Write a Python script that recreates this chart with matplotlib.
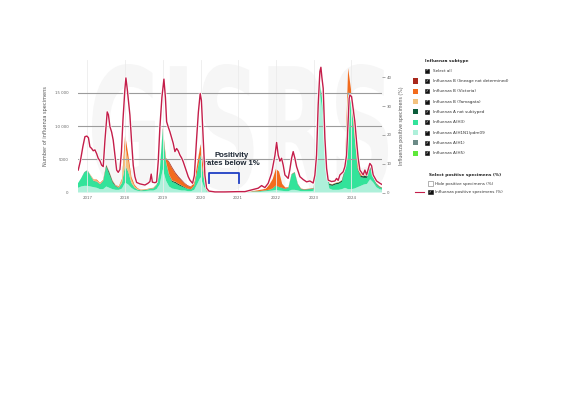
import matplotlib
matplotlib.use("Agg")
import matplotlib.pyplot as plt
import matplotlib.patheffects as pe
import numpy as np
from matplotlib.patches import Rectangle, PathPatch
from matplotlib.textpath import TextPath
from matplotlib.font_manager import FontProperties
from matplotlib.transforms import Affine2D

# monthly samples, Oct 2016 .. Nov 2024 (decimal years)
START_YEAR = 2016.75
N_MONTHS = 98

# counts of specimens per subtype (left axis), one value per month
a_h1n1pdm09 = [700, 900, 1000,
               1000, 900, 800, 700, 500, 500, 900, 700, 500, 400, 400, 600,
               1500, 1200, 700, 400, 250, 200, 200, 250, 300, 300, 500, 1200,
               3500, 1800, 900, 600, 500, 400, 300, 300, 200, 200, 400, 1300,
               2300, 1000, 100, 30, 20, 20, 20, 20, 20, 20, 20, 20,
               20, 30, 40, 60, 80, 100, 100, 120, 150, 200, 250, 300,
               400, 300, 250, 200, 200, 400, 400, 300, 200, 200, 200, 200,
               250, 3500, 15000, 11500, 3000, 600, 400, 400, 400, 500, 700, 500,
               500, 600, 800, 1000, 1200, 1300, 2000, 1500, 800, 500, 400]
a_h3 = [700, 1250, 2000,
        2300, 1600, 900, 900, 700, 1200, 3000, 2000, 1000, 500, 300, 800,
        2500, 1800, 700, 300, 150, 100, 150, 150, 250, 300, 600, 1800,
        6000, 2700, 1600, 1000, 900, 700, 600, 400, 300, 250, 600, 2000,
        3300, 1300, 100, 20, 10, 10, 10, 10, 10, 10, 10, 10,
        10, 10, 20, 30, 50, 60, 60, 80, 100, 120, 150, 300,
        600, 500, 400, 300, 500, 2300, 2600, 900, 300, 200, 250, 300,
        300, 1000, 1500, 1500, 800, 500, 600, 800, 900, 1100, 2600, 14500,
        13000, 8000, 2700, 1300, 1000, 900, 1600, 700, 400, 300, 200]
a_not_subtyped = [0, 0, 50,
                  50, 50, 50, 50, 50, 50, 200, 300, 200, 100, 50, 50,
                  100, 100, 50, 50, 30, 30, 30, 30, 30, 30, 30, 50,
                  100, 100, 150, 150, 200, 200, 150, 100, 50, 50, 50, 50,
                  50, 50, 20, 0, 0, 0, 0, 0, 0, 0, 0, 0,
                  10, 10, 10, 20, 20, 20, 20, 20, 30, 30, 30, 30,
                  50, 50, 50, 50, 50, 50, 50, 50, 50, 50, 50, 50,
                  50, 50, 100, 100, 100, 200, 200, 200, 200, 200, 200, 200,
                  200, 200, 200, 200, 300, 300, 300, 200, 100, 80, 50]
b_yamagata = [0, 0, 0,
              0, 100, 100, 150, 100, 50, 50, 50, 50, 50, 100, 400,
              3000, 1600, 500, 200, 100, 50, 50, 50, 30, 30, 30, 30,
              50, 100, 100, 50, 30, 20, 20, 10, 10, 10, 10, 10,
              10, 10, 0, 0, 0, 0, 0, 0, 0, 0, 0, 0,
              0, 0, 0, 0, 0, 0, 0, 0, 0, 0, 0, 0,
              0, 0, 0, 0, 0, 0, 0, 0, 0, 0, 0, 0,
              0, 0, 0, 0, 0, 0, 0, 0, 0, 0, 0, 0,
              0, 0, 0, 0, 0, 0, 0, 0, 0, 0, 0]
b_victoria = [0, 0, 0,
              0, 0, 100, 150, 100, 100, 50, 50, 50, 50, 100, 200,
              1600, 1000, 400, 200, 100, 50, 50, 50, 50, 50, 50, 50,
              100, 500, 1700, 1800, 1200, 900, 700, 500, 400, 350, 500, 1000,
              1500, 1200, 100, 20, 10, 10, 10, 10, 10, 10, 10, 20,
              20, 30, 40, 60, 100, 120, 130, 180, 200, 350, 800, 1400,
              2500, 2300, 600, 200, 50, 30, 30, 50, 50, 50, 50, 50,
              50, 50, 50, 50, 50, 50, 50, 50, 50, 50, 100, 3500,
              1500, 3500, 2500, 800, 300, 100, 50, 50, 50, 50, 50]
b_not_determined = [0, 0, 0,
                    0, 0, 0, 0, 0, 0, 0, 0, 0, 0, 0, 0,
                    0, 0, 0, 0, 0, 0, 0, 0, 0, 0, 0, 0,
                    0, 0, 200, 200, 200, 200, 150, 100, 100, 50, 50, 50,
                    100, 50, 0, 0, 0, 0, 0, 0, 0, 0, 0, 0,
                    0, 0, 0, 0, 0, 0, 0, 0, 0, 0, 0, 0,
                    0, 0, 0, 0, 0, 0, 0, 0, 0, 0, 0, 0,
                    0, 0, 0, 0, 0, 0, 0, 0, 0, 0, 0, 0,
                    0, 0, 0, 0, 0, 0, 0, 0, 0, 0, 0]

# influenza positivity (right axis, %)
pos_year = [2016.756, 2016.814, 2016.88, 2016.934, 2016.987, 2017.027, 2017.066, 2017.111,
            2017.154, 2017.199, 2017.244, 2017.286, 2017.332, 2017.377, 2017.419, 2017.464,
            2017.525, 2017.557, 2017.597, 2017.642, 2017.684, 2017.729, 2017.775, 2017.817,
            2017.862, 2017.902, 2017.942, 2017.995, 2018.021, 2018.056, 2018.082, 2018.127,
            2018.172, 2018.215, 2018.26, 2018.305, 2018.393, 2018.525, 2018.605, 2018.658,
            2018.692, 2018.724, 2018.79, 2018.836, 2018.878, 2018.923, 2018.976, 2019.029,
            2019.069, 2019.101, 2019.143, 2019.188, 2019.233, 2019.276, 2019.321, 2019.366,
            2019.408, 2019.454, 2019.499, 2019.541, 2019.586, 2019.631, 2019.674, 2019.719,
            2019.79, 2019.838, 2019.897, 2019.944, 2019.992, 2020.024, 2020.072, 2020.117,
            2020.162, 2020.223, 2020.382, 2020.647, 2020.992, 2021.178, 2021.355, 2021.443,
            2021.531, 2021.621, 2021.708, 2021.796, 2021.886, 2021.976, 2022.019, 2022.061,
            2022.106, 2022.151, 2022.194, 2022.239, 2022.326, 2022.371, 2022.416, 2022.459,
            2022.504, 2022.549, 2022.637, 2022.724, 2022.814, 2022.902, 2022.989, 2023.034,
            2023.079, 2023.122, 2023.167, 2023.194, 2023.22, 2023.255, 2023.3, 2023.345,
            2023.387, 2023.477, 2023.565, 2023.61, 2023.652, 2023.698, 2023.785, 2023.83,
            2023.875, 2023.917, 2023.944, 2023.963, 2024.008, 2024.05, 2024.095, 2024.141,
            2024.183, 2024.228, 2024.316, 2024.361, 2024.406, 2024.448, 2024.493, 2024.539,
            2024.581, 2024.672, 2024.76, 2024.813]
pos_pct = [7.8, 11, 16, 19.4, 19.6, 19, 15.9, 15.3,
           14.5, 14.8, 13.5, 11.9, 11, 9.5, 9, 18,
           28, 27, 22.9, 21, 18.2, 13, 7.8, 7.0,
           8, 14, 25, 36, 39.8, 36, 32.7, 26.9,
           17.6, 9.5, 5.5, 3.5, 3.0, 2.6, 3.2, 3.8,
           6.4, 3.6, 3.4, 3.7, 10.7, 22.8, 33, 39.4,
           33, 24.6, 22.8, 21.1, 19, 17.1, 14.2, 15.3,
           14.5, 13, 12, 10.7, 9, 7.2, 5.5, 4.3,
           3.2, 6, 18.8, 28, 34.4, 32, 18.8, 6,
           1.5, 0.5, 0.2, 0.2, 0.3, 0.3, 0.9, 1.2,
           1.5, 2.4, 1.7, 3.2, 6.7, 13, 17.4, 13,
           10.9, 11.9, 9.5, 6.1, 4.9, 8, 11.9, 14.2,
           11.9, 9, 5.5, 4.5, 3.7, 4, 3.3, 6,
           13, 30.4, 42, 43.5, 40, 36.2, 18.8, 8.4,
           4.3, 3.8, 4, 4.9, 4.2, 6.1, 7.2, 9,
           13, 24.6, 32.7, 33.9, 33.3, 29.2, 24.6, 17.6,
           11.9, 7.8, 6.1, 7.8, 6.1, 8, 10.1, 9.3,
           6.1, 4, 3.2, 2.8]

legend_labels = ["Influenza B (lineage not determined)", "Influenza B (Victoria)",
                 "Influenza B (Yamagata)", "Influenza A not subtyped", "Influenza A(H3)",
                 "Influenza A(H1N1)pdm09", "Influenza A(H1)", "Influenza A(H5)"]
legend_colors = ["#a8281c", "#f26b1d", "#f3c27e", "#0c5c3a", "#33e39a",
                 "#aef0da", "#6b8a86", "#5ee83a"]

W, H = 561, 396


def fx(px):
    return px / W


def fy(py):
    return 1 - py / H


fig = plt.figure(figsize=(W / 100, H / 100), dpi=100)

# faint GISRS watermark behind the plot
tp = TextPath((0, 0), "GISRS", size=1, prop=FontProperties(family="DejaVu Sans", weight="bold"))
ext = tp.get_extents()
tr = (Affine2D().translate(-ext.x0, -ext.y0)
      .scale((fx(388) - fx(92)) / ext.width, (fy(64) - fy(191)) / ext.height)
      .translate(fx(92), fy(191)) + fig.transFigure)
fig.add_artist(PathPatch(tp, transform=tr, facecolor="#f6f6f6", edgecolor="none", zorder=-5))

ax = fig.add_axes([fx(78), fy(192.5), fx(382) - fx(78), fy(59.5) - fy(192.5)])
ax.patch.set_visible(False)

x = START_YEAR + np.arange(N_MONTHS) / 12
stack = [a_h1n1pdm09, a_h3, a_not_subtyped, b_yamagata, b_victoria, b_not_determined]
stack_colors = ["#aef0da", "#33e39a", "#0c5c3a", "#f3c27e", "#f26b1d", "#a8281c"]
ax.stackplot(x, stack, colors=stack_colors, linewidth=0, zorder=1)

ax.set_xlim(2016.75, 2024.815)
ax.set_ylim(0, 20000)
ax.set_yticks([0, 5000, 10000, 15000])
ax.set_yticklabels(["0", "5000", "10 000", "15 000"])
ax.set_xticks(range(2017, 2025))
ax.set_xticklabels([str(y) for y in range(2017, 2025)])
for s in ax.spines.values():
    s.set_visible(False)
ax.tick_params(axis="y", length=0, pad=7, labelsize=2.8, labelcolor="#666666")
ax.tick_params(axis="x", length=0, pad=2.5, labelsize=2.8, labelcolor="#666666")
ax.grid(axis="x", color="#ececec", lw=0.6, zorder=0)
for v in [5000, 10000, 15000]:
    ax.axhline(v, color="#9c9c9c", lw=0.8, zorder=2)
ax.set_ylabel("Number of influenza specimens", fontsize=3.6, color="#555555", labelpad=5)

# positivity below 1% note
ax.plot([2020.23, 2020.23, 2021.02, 2021.02], [1400, 3000, 3000, 1400],
        color="#1f3fc4", lw=1.3, zorder=3)
ax.text(2020.83, 5000, "Positivity\nrates below 1%", ha="center", va="center",
        fontsize=5.6, fontweight="bold", family="Liberation Sans", color="#1c2633",
        linespacing=1.15, zorder=3)

ax2 = ax.twinx()
ax2.patch.set_visible(False)
ax2.plot(pos_year, pos_pct, color="#c41e4a", lw=1.0, zorder=4,
         path_effects=[pe.Stroke(linewidth=2.0, foreground="white"), pe.Normal()])
ax2.set_ylim(0, 46.2)
ax2.set_yticks([0, 10, 20, 30, 40])
for s in ax2.spines.values():
    s.set_visible(False)
ax2.tick_params(axis="y", length=2.2, width=0.5, color="#888888", pad=1.2,
                labelsize=2.8, labelcolor="#666666")
ax2.set_ylabel("Influenza positive specimens (%)", fontsize=3.4, color="#555555", labelpad=5)


def checkbox(px, py, filled=True):
    size = 4.3
    fig.add_artist(Rectangle((fx(px), fy(py + size / 2)), size / W, size / H,
                             transform=fig.transFigure,
                             facecolor="#111111" if filled else "white",
                             edgecolor="#111111" if filled else "#777777", lw=0.4))
    if filled:
        fig.text(fx(px + size / 2), fy(py), "\u2713", color="white", fontsize=2.6,
                 ha="center", va="center")


# legend on the right
fig.text(fx(425), fy(61), "Influenza subtype", fontsize=3.1, fontweight="bold",
         color="#222222", va="center")
checkbox(425, 70.7)
fig.text(fx(432.7), fy(70.7), "Select all", fontsize=3, color="#333333", va="center")
for k, (lab, col) in enumerate(zip(legend_labels, legend_colors)):
    yy = 81 + k * 10.33
    fig.add_artist(Rectangle((fx(413.3), fy(yy + 2.5)), 5 / W, 5 / H,
                             transform=fig.transFigure, facecolor=col, edgecolor="none"))
    checkbox(425, yy)
    fig.text(fx(432.7), fy(yy), lab, fontsize=3, color="#333333", va="center")

fig.text(fx(429.3), fy(175), "Select positive specimens (%)", fontsize=3.1,
         fontweight="bold", color="#222222", va="center")
checkbox(428.3, 183.5, filled=False)
fig.text(fx(435), fy(183.5), "Hide positive specimens (%)", fontsize=3, color="#333333",
         va="center")
fig.add_artist(plt.Line2D([fx(415), fx(423.5)], [fy(192), fy(192)], color="#c41e4a",
                          lw=0.8, transform=fig.transFigure))
checkbox(428.3, 192)
fig.text(fx(435), fy(192), "Influenza positive specimens (%)", fontsize=3, color="#333333",
         va="center")

fig.savefig("out.png", dpi=100)
